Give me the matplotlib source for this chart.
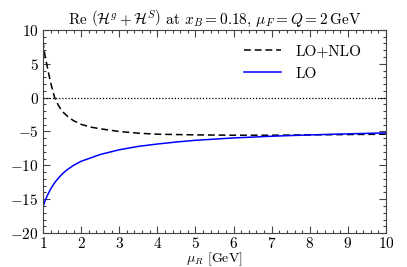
import numpy as np
import matplotlib
matplotlib.use("Agg")
import matplotlib.pyplot as plt

plt.rcParams['font.family'] = 'serif'
plt.rcParams['font.serif'] = ['cmr10']
plt.rcParams['mathtext.fontset'] = 'cm'
plt.rcParams['axes.formatter.use_mathtext'] = True
plt.rcParams['axes.unicode_minus'] = True

# values
mu_lo = [1.0, 1.05, 1.1, 1.2, 1.3, 1.4, 1.5, 1.62, 1.8, 2.0, 2.25, 2.5,
         3.0, 3.5, 4.0, 4.5, 5.0, 6.0, 7.0, 8.0, 9.0, 10.0]
re_lo = [-16.1, -15.3, -14.6, -13.5, -12.6, -11.9, -11.3, -10.7, -10.0, -9.4, -8.9, -8.4,
         -7.7, -7.2, -6.85, -6.55, -6.3, -5.95, -5.7, -5.5, -5.35, -5.2]

mu_nlo = [1.0, 1.03, 1.06, 1.1, 1.15, 1.2, 1.3, 1.4, 1.5, 1.65, 1.8, 2.0,
          2.25, 2.5, 3.0, 3.5, 4.0, 5.0, 6.0, 7.0, 8.0, 9.0, 10.0]
re_nlo = [8.4, 7.0, 5.9, 4.9, 3.5, 2.2, 0.1, -1.1, -2.0, -2.8, -3.4, -3.95,
          -4.35, -4.6, -5.0, -5.25, -5.4, -5.5, -5.55, -5.55, -5.5, -5.45, -5.4]


def main():
    fig = plt.figure(figsize=(4.07, 2.67), dpi=100)
    ax = fig.add_axes([0.1057, 0.127, 0.8427, 0.761])

    ax.axhline(0, color='black', lw=0.9, ls=(0, (1, 1.5)))
    ax.plot(mu_nlo, re_nlo, color='black', lw=1.1, ls=(0, (4.5, 2.5)), label='LO+NLO')
    ax.plot(mu_lo, re_lo, color='blue', lw=1.1, label='LO')

    ax.set_xlim(1, 10)
    ax.set_ylim(-20, 10)
    ax.set_xticks(range(1, 11))
    ax.set_yticks(range(-20, 11, 5))
    ax.set_xticks(np.arange(1, 10.01, 0.2), minor=True)
    ax.set_yticks(range(-20, 11), minor=True)
    ax.tick_params(which='both', direction='in', top=True, right=True,
                   labelsize=11, color='#444444', width=0.8)
    ax.tick_params(which='major', length=5, pad=3)
    ax.tick_params(axis='x', which='major', pad=2)
    ax.tick_params(which='minor', length=2.5)
    for s in ax.spines.values():
        s.set_color('#444444')
        s.set_linewidth(0.8)

    ax.set_xlabel(r'$\mu_R$ [GeV]', fontsize=10, labelpad=-0.5)
    ax.set_title(r'Re $\left(\mathcal{H}^g + \mathcal{H}^S\right)$ at $x_B = 0.18$, '
                 r'$\mu_F = Q = 2\,\mathrm{GeV}$', fontsize=11, pad=4)

    ax.legend(loc='upper right', frameon=False, fontsize=11, handlelength=2.4,
              handletextpad=1.0, bbox_to_anchor=(0.97, 0.995), labelspacing=0.55)

    fig.savefig('out.png', dpi=100)


if __name__ == "__main__":
    main()
